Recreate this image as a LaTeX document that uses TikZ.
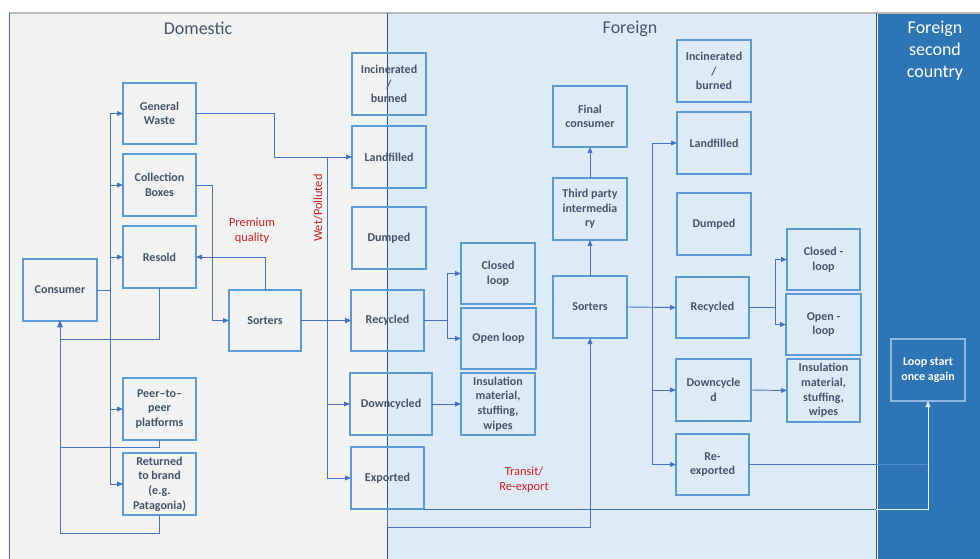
\documentclass[tikz,border=0pt]{standalone}
\usepackage{fontspec}
\setmainfont{Carlito}
\usetikzlibrary{arrows.meta}
\definecolor{pgray}{HTML}{F2F2F2}
\definecolor{plight}{HTML}{DEEBF7}
\definecolor{pdark}{HTML}{2E75B6}
\definecolor{boxblue}{HTML}{5B9BD5}
\definecolor{txt}{HTML}{44546A}
\definecolor{lineblue}{HTML}{4472C4}
\definecolor{navy}{HTML}{2F5597}
\definecolor{redlab}{HTML}{CC2020}
\newcommand\mkbox[7][]{\node[box,#1,minimum width={(#5-#3)*0.75pt},minimum height={(#6-#4)*0.75pt}] (#2) at ({(#3+#5)/2},{(#4+#6)/2}) {#7};}
\begin{document}
\begin{tikzpicture}[x=0.75pt,y=-0.75pt,
  box/.style={draw=boxblue,line width=1.4pt,inner sep=0pt,outer sep=0pt,align=center,text=txt,font=\fontsize{9}{11}\selectfont\bfseries},
  conn/.style={draw=lineblue,line width=0.7pt},
  arr/.style={conn,-{Triangle[length=4.5pt,width=3.6pt]}},
  redtext/.style={text=redlab,align=center,font=\fontsize{9.3}{11.2}\selectfont},
  title/.style={text=txt,font=\fontsize{13.5}{16}\selectfont}]
\useasboundingbox (0,0) rectangle (980,559);
\fill[white] (0,0) rectangle (980,559);
% panels
\fill[pgray] (9,13) rectangle (387,559);
\fill[plight] (387,13) rectangle (876,559);
\fill[pdark] (878,13) rectangle (980,559);
\draw[gray!55,line width=0.9pt] (9,13) -- (980,13);
\draw[lineblue,line width=0.6pt] (9,13) -- (9,559);
\draw[navy,line width=0.55pt] (387,13) -- (387,559);
\draw[navy,line width=0.55pt] (876,13) -- (876,559);
% titles
\node[title] (tdom) at (198,28) {Domestic};
\node[title] (tfor) at (630,29) {Foreign};
\node[title,text=white,align=center,font=\fontsize{13.5}{16.5}\selectfont] (tsec) at (935,51) {Foreign\\second\\country};
% domestic boxes
\mkbox{gw}{123}{83}{196}{144}{General\\Waste}
\mkbox{cb}{123}{154}{196}{216}{Collection\\Boxes}
\mkbox{resold}{123}{226}{196}{288}{Resold}
\mkbox{consumer}{23}{259}{97}{321}{Consumer}
\mkbox{dsort}{229}{290}{301}{351}{Sorters}
\mkbox{peer}{123}{378}{196}{440}{Peer–to–\\peer\\platforms}
\mkbox{ret}{123}{453}{196}{515}{Returned\\to brand\\(e.g.\\Patagonia)}
\mkbox{dinc}{352}{53}{426}{115}{Incinerated\\/\\burned}
\mkbox{dland}{352}{126}{426}{188}{Landfilled}
\mkbox{ddump}{352}{207}{426}{269}{Dumped}
\mkbox{drec}{351}{290}{424}{351}{Recycled}
\mkbox{ddown}{350}{373}{432}{435}{Downcycled}
\mkbox{dexp}{351}{447}{424}{509}{Exported}
\mkbox{dclosed}{461}{243}{535}{304}{Closed\\loop}
\mkbox{dopen}{461}{308}{536}{369}{Open loop}
\mkbox{dins}{461}{373}{535}{435}{Insulation\\material,\\stuffing,\\wipes}
% foreign boxes
\mkbox{ffin}{553}{86}{627}{147}{Final\\consumer}
\mkbox{ftp}{553}{178}{627}{240}{Third party\\intermedia\\ry}
\mkbox{fsort}{553}{276}{627}{338}{Sorters}
\mkbox{finc}{677}{40}{751}{102}{Incinerated\\/\\burned}
\mkbox{fland}{677}{112}{751}{174}{Landfilled}
\mkbox{fdump}{677}{193}{751}{255}{Dumped}
\mkbox{frec}{676}{277}{749}{338}{Recycled}
\mkbox{fdown}{676}{359}{751}{421}{Downcycle\\d}
\mkbox{frex}{676}{434}{749}{495}{Re-\\exported}
\mkbox{fclosed}{787}{229}{860}{290}{Closed -\\loop}
\mkbox{fopen}{786}{294}{861}{355}{Open -\\loop}
\mkbox{fins}{787}{359}{860}{422}{Insulation\\material,\\stuffing,\\wipes}
\mkbox[draw=boxblue!70!white,text=white,line width=1.2pt]{loop}{891}{339}{965}{401}{Loop start\\once again}
% labels
\node[redtext] (lprem) at (252,231) {Premium\\quality};
\node[redtext,rotate=90] (lwet) at (318,208) {Wet/Polluted};
\node[redtext] (ltrans) at (524,480) {Transit/\\Re-export};
% coordinates
\coordinate (busL) at (110,290);
\coordinate (retA) at (60,339);
\coordinate (retB) at (60,447);
\coordinate (retC) at (60,533);
\coordinate (cbx) at (212,185);
\coordinate (gwx) at (274,113.5);
\coordinate (wetbus) at (327,157);
\coordinate (drx) at (447,320.5);
\coordinate (expA) at (590,527);
\coordinate (expB) at (876,509);
\coordinate (loopx) at (928,509);
\coordinate (fbus) at (652,307);
\coordinate (frx) at (775,307.5);
\coordinate (rexA) at (876,464.5);
\coordinate (rexB) at (927,464.5);
% domestic connectors
\draw[conn] (consumer.east) -- (busL);
\foreach \t in {gw,cb,resold,peer,ret} \draw[arr] (busL) |- (\t.west);
\draw[arr] (resold.south) |- (retA) -- (consumer.south);
\draw[arr] (peer.south) |- (retB) -- (consumer.south);
\draw[arr] (ret.south) |- (retC) -- (consumer.south);
\draw[arr] (cb.east) -- (cbx) |- (dsort.west);
\draw[arr] (dsort.north) |- (resold.east);
\draw[arr] (gw.east) -- (gwx) |- (dland.west);
\draw[arr] (dsort.east) -- (drec.west);
\foreach \t in {drec,ddown,dexp} \draw[arr] (wetbus) |- (\t.west);
\draw[arr] (drec.east) -- (drx) |- (dclosed.west);
\draw[arr] (drx) |- (dopen.west);
\draw[arr] (ddown.east) -- (dins.west);
\draw[arr] (dexp.south) |- (expA) -- (fsort.south);
\draw[conn] (dexp.south east) -- (expB);
\draw[arr,draw=white!90!boxblue] (expB) -- (loopx) -- (loop.south);
% foreign connectors
\draw[arr] (fsort.north) -- (ftp.south);
\draw[arr] (ftp.north) -- (ffin.south);
\draw[arr] (fsort.east) -- (frec.west);
\foreach \t in {fland,fdown,frex} \draw[arr] (fbus) |- (\t.west);
\draw[arr] (frec.east) -- (frx) |- (fclosed.west);
\draw[arr] (frx) |- (fopen.west);
\draw[arr] (fdown.east) -- (fins.west);
\draw[conn] (frex.east) -- (rexA);
\draw[conn,draw=boxblue!80!pdark] (rexA) -- (rexB);
\end{tikzpicture}
\end{document}
